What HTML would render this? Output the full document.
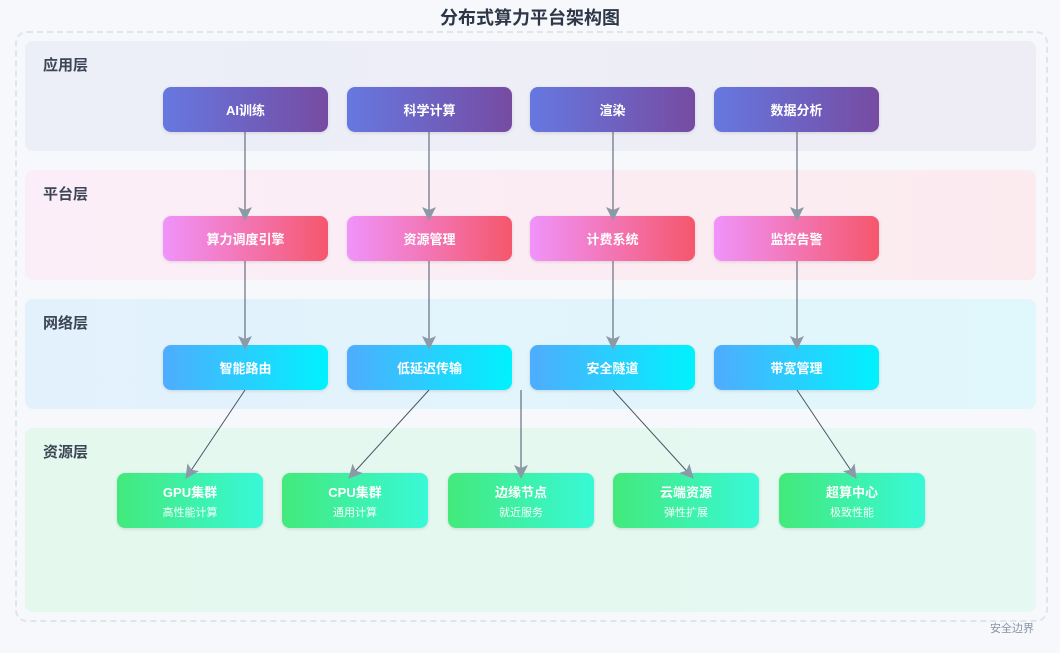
<!DOCTYPE html>
<html><head><meta charset="utf-8"><style>
body{margin:0;width:1060px;height:653px;background:#f6f8fb;font-family:"Liberation Sans","Noto Sans CJK SC",sans-serif;position:relative;overflow:hidden}
.a{position:absolute}
.title{left:0;width:1060px;top:4px;text-align:center;font-size:18px;font-weight:bold;color:#2d3748}
.outer{left:15px;top:31px;width:1029px;height:587px;border:2px dashed #dfe5ec;border-radius:12px}
.layer{left:25px;width:1011px;border-radius:8px}
.lab{left:43px;font-size:15px;font-weight:bold;color:#3d4656}
.n{height:45px;width:165px;border-radius:8px;color:#fff;font-size:13px;font-weight:bold;display:flex;align-items:center;justify-content:center;box-shadow:0 1px 3px rgba(0,0,0,.12)}
.r1{top:87px;background:linear-gradient(90deg,#6678e0,#764ba2)}
.r2{top:216px;background:linear-gradient(90deg,#f093fb,#f5576c)}
.r3{top:345px;background:linear-gradient(90deg,#4facfe,#00f2fe)}
.r4{top:473px;width:146px;height:55px;background:linear-gradient(90deg,#43e97b,#38f9d7);flex-direction:column}
.r4 small{font-size:11px;font-weight:normal;margin-top:3px;opacity:.95}
</style></head><body>
<div class="a title">分布式算力平台架构图</div>
<div class="a outer"></div>
<div class="a layer" style="top:41px;height:110px;background:linear-gradient(90deg,#eceef8,#eeedf5)"></div>
<div class="a layer" style="top:170px;height:110px;background:linear-gradient(90deg,#fbeef8,#fbebef)"></div>
<div class="a layer" style="top:299px;height:110px;background:linear-gradient(90deg,#e3f1fc,#e0f7fb)"></div>
<div class="a layer" style="top:428px;height:184px;background:linear-gradient(90deg,#e4f8ee,#e5f8f2)"></div>
<div class="a lab" style="top:54px">应用层</div>
<div class="a lab" style="top:183px">平台层</div>
<div class="a lab" style="top:312px">网络层</div>
<div class="a lab" style="top:441px">资源层</div>
<div class="a n r1" style="left:163px">AI训练</div>
<div class="a n r1" style="left:347px">科学计算</div>
<div class="a n r1" style="left:530px">渲染</div>
<div class="a n r1" style="left:714px">数据分析</div>
<div class="a n r2" style="left:163px">算力调度引擎</div>
<div class="a n r2" style="left:347px">资源管理</div>
<div class="a n r2" style="left:530px">计费系统</div>
<div class="a n r2" style="left:714px">监控告警</div>
<div class="a n r3" style="left:163px">智能路由</div>
<div class="a n r3" style="left:347px">低延迟传输</div>
<div class="a n r3" style="left:530px">安全隧道</div>
<div class="a n r3" style="left:714px">带宽管理</div>
<div class="a n r4" style="left:117px">GPU集群<small>高性能计算</small></div>
<div class="a n r4" style="left:282px">CPU集群<small>通用计算</small></div>
<div class="a n r4" style="left:448px">边缘节点<small>就近服务</small></div>
<div class="a n r4" style="left:613px">云端资源<small>弹性扩展</small></div>
<div class="a n r4" style="left:779px">超算中心<small>极致性能</small></div>
<svg class="a" style="left:0;top:0" width="1060" height="653">
<defs><marker id="m" markerWidth="14" markerHeight="14" refX="13" refY="7" orient="auto" markerUnits="userSpaceOnUse"><path d="M0,0 L14,7 L0,14 L3,7 Z" fill="#8e99a8"/></marker></defs>
<g stroke="#4a5568" stroke-width="1" marker-end="url(#m)">
<line x1="245" y1="132" x2="245" y2="220"/><line x1="429" y1="132" x2="429" y2="220"/><line x1="613" y1="132" x2="613" y2="220"/><line x1="797" y1="132" x2="797" y2="220"/>
<line x1="245" y1="261" x2="245" y2="349"/><line x1="429" y1="261" x2="429" y2="349"/><line x1="613" y1="261" x2="613" y2="349"/><line x1="797" y1="261" x2="797" y2="349"/>
<line x1="245" y1="390" x2="186" y2="478"/><line x1="429" y1="390" x2="349" y2="478"/><line x1="521" y1="390" x2="521" y2="478"/><line x1="613" y1="390" x2="693" y2="478"/><line x1="797" y1="390" x2="856" y2="478"/>
</g></svg>
<div class="a" style="left:990px;top:620px;font-size:11px;color:#8a94a3">安全边界</div>
</body></html>
